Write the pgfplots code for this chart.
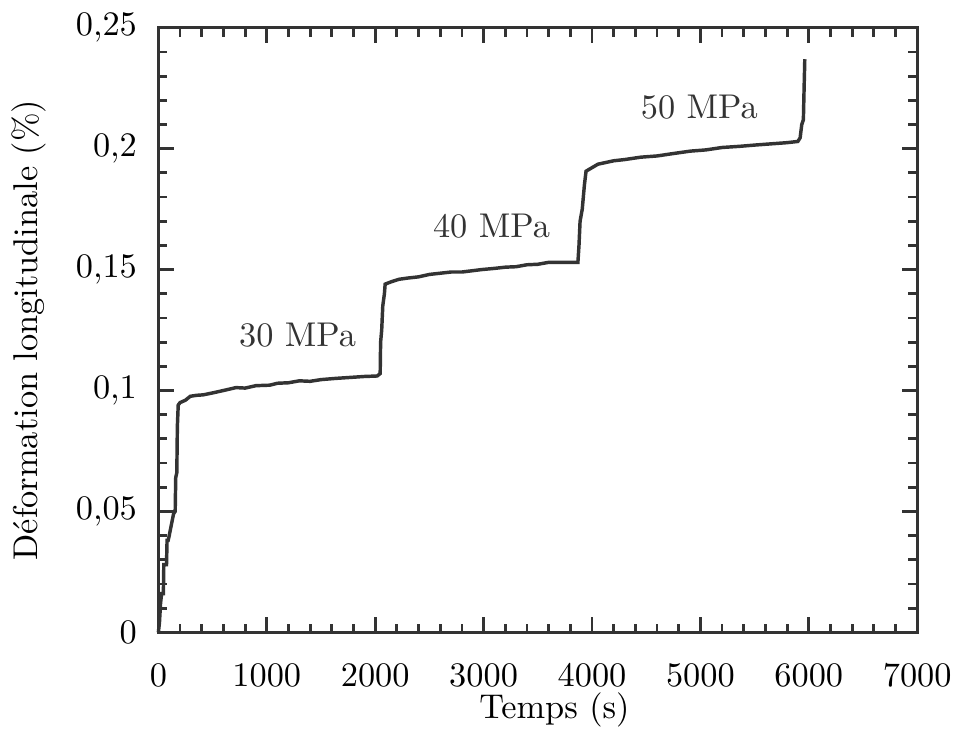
\documentclass[border=0pt,11pt]{standalone}
\usepackage{pgfplots}
\pgfplotsset{compat=1.18}
\definecolor{ink}{HTML}{333333}
\begin{document}
\begin{tikzpicture}
\begin{axis}[
  scale only axis,
  width=241.9pt, height=192.7pt,
  xmin=0, xmax=7000, ymin=0, ymax=0.25,
  xtick={0,1000,2000,3000,4000,5000,6000,7000},
  ytick={0,0.05,0.1,0.15,0.2,0.25},
  minor x tick num=4, minor y tick num=4,
  major tick length=5pt, minor tick length=2.8pt,
  tick align=inside, tick pos=both,
  scaled x ticks=false, scaled y ticks=false,
  x tick label style={/pgf/number format/1000 sep={}, yshift=-6.5pt},
  y tick label style={/pgf/number format/use comma, /pgf/number format/fixed, xshift=-3pt},
  axis line style={ink, line width=1pt},
  every tick/.style={ink, line width=0.9pt},
  xlabel={Temps (s)},
  ylabel={Déformation longitudinale (\%)},
  xlabel style={at={(axis description cs:0.522,-0.1285)}, anchor=center},
  ylabel style={at={(axis description cs:-0.171,0.5)}, anchor=center},
  clip=false,
]
\addplot[ink, line width=1.1pt] coordinates {
(0,0) (10,0.004) (20,0.012) (30,0.016) (46,0.016) (50,0.028) (75,0.028)
(80,0.038) (90,0.038) (100,0.040) (140,0.049) (155,0.050) (160,0.064)
(170,0.066) (175,0.085) (183,0.094) (200,0.095) (250,0.096) (294,0.0976)
(350,0.098) (413,0.0982) (500,0.099) (600,0.1) (716,0.1012) (800,0.101)
(900,0.102) (1027,0.1022) (1100,0.103) (1200,0.1032) (1300,0.104)
(1400,0.1038) (1500,0.1045) (1633,0.105) (1700,0.1052) (1800,0.1055)
(1900,0.1058) (2018,0.106) (2046,0.107) (2050,0.120) (2060,0.125)
(2070,0.135) (2085,0.140) (2092,0.144) (2150,0.145) (2220,0.146)
(2300,0.1465) (2400,0.147) (2500,0.148) (2600,0.1485) (2700,0.149)
(2800,0.149) (2980,0.150) (3100,0.1505) (3200,0.151) (3300,0.1512)
(3400,0.152) (3500,0.1522) (3600,0.153) (3700,0.153) (3870,0.153)
(3880,0.160) (3890,0.170) (3910,0.175) (3930,0.185) (3945,0.1907)
(4055,0.1936) (4200,0.195) (4300,0.1955) (4450,0.1965) (4600,0.197)
(4750,0.198) (4908,0.199) (5050,0.1995) (5200,0.2005) (5367,0.201)
(5500,0.2015) (5650,0.202) (5800,0.2025) (5899,0.203) (5920,0.2045)
(5935,0.210) (5950,0.212) (5955,0.222) (5963,0.237)
};
\node[ink] at (axis cs:1284,0.1227) {30 MPa};
\node[ink] at (axis cs:3073,0.168) {40 MPa};
\node[ink] at (axis cs:4991,0.217) {50 MPa};
\path (rel axis cs:-0.2034,-0.1647) rectangle (rel axis cs:1.0643,1.046);
\end{axis}
\end{tikzpicture}
\end{document}
